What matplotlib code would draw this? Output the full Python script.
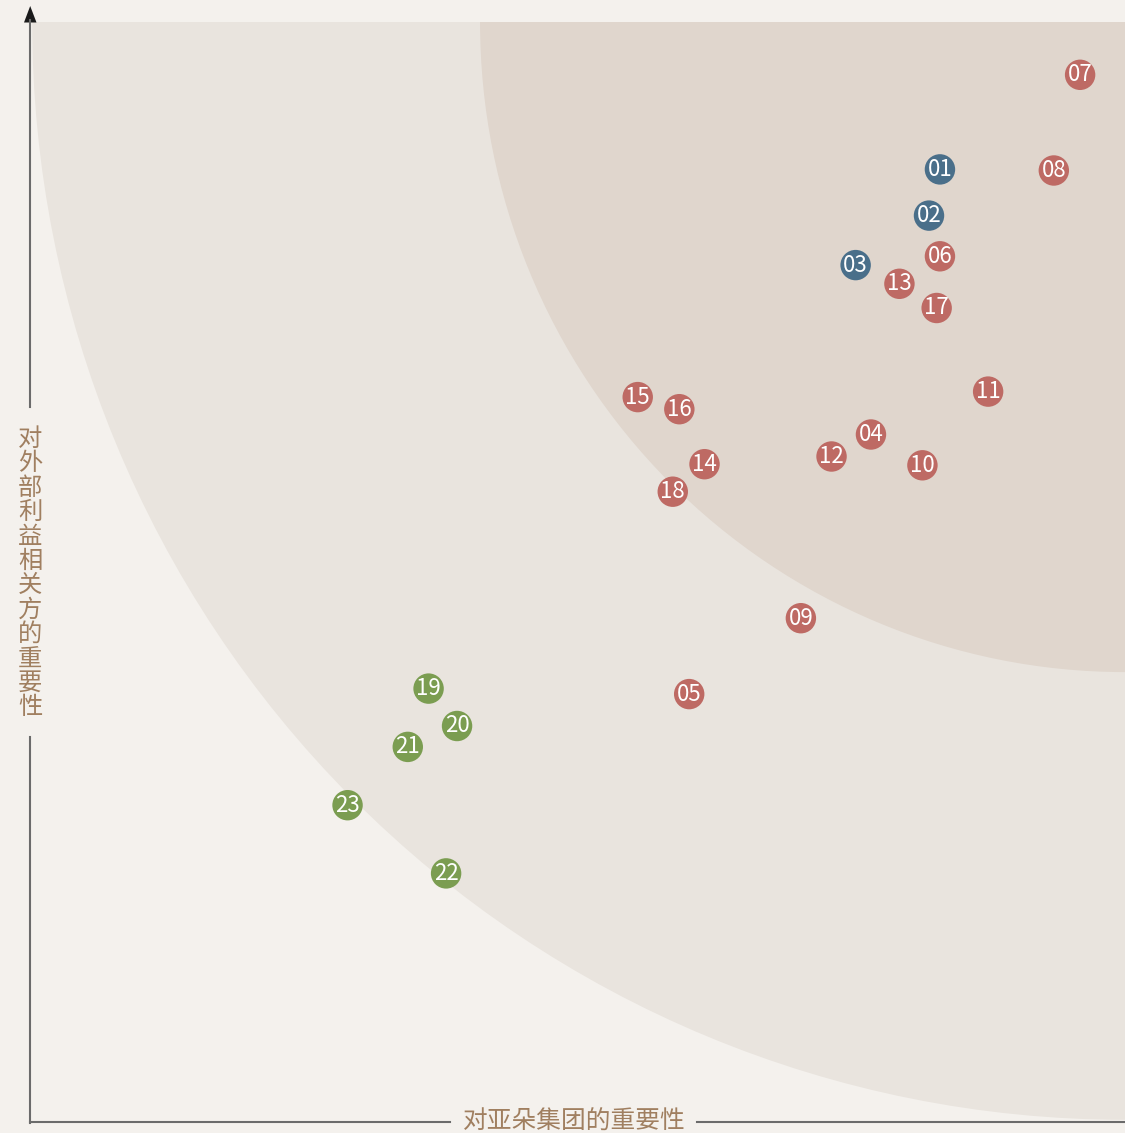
import matplotlib
matplotlib.use("Agg")
import matplotlib.pyplot as plt
from matplotlib import patches

plt.rcParams['font.family'] = ['Noto Sans CJK SC', 'DejaVu Sans']

# 利益相关方: 编号, 对亚朵集团的重要性 (x), 对外部利益相关方的重要性 (y), 类别
ids = ['01', '02', '03', '04', '05', '06', '07', '08', '09', '10', '11', '12',
       '13', '14', '15', '16', '17', '18', '19', '20', '21', '22', '23']
x_vals = [83.1, 82.1, 75.4, 76.8, 60.2, 83.1, 95.9, 93.5, 70.4, 81.5, 87.5, 73.2,
          79.4, 61.6, 55.5, 59.3, 82.8, 58.7, 36.4, 39.0, 34.5, 38.0, 29.0]
y_vals = [86.6, 82.4, 77.9, 62.5, 38.9, 78.7, 95.2, 86.5, 45.8, 59.7, 66.4, 60.5,
          76.2, 59.8, 65.9, 64.8, 74.0, 57.3, 39.4, 36.0, 34.1, 22.6, 28.8]
groups = ['blue', 'blue', 'blue'] + ['red'] * 15 + ['green'] * 5

x_label = '对亚朵集团的重要性'
y_label = '对外部利益相关方的重要性'

colors = {'blue': '#4a6f8a', 'red': '#be6a64', 'green': '#7b9d51'}
bg = '#f4f1ed'
text_col = '#a07f60'

W, H = 1125, 1133
fig = plt.figure(figsize=(W / 100, H / 100), dpi=100, facecolor=bg)
# plot area: x 30..1125 px, y 22..1122 px
ax = fig.add_axes([30 / W, (H - 1122) / H, 1095 / W, 1100 / H])
ax.set_xlim(0, 100)
ax.set_ylim(0, 100)
ax.set_facecolor(bg)
ax.axis('off')

# quarter circles centred at top-right corner
ax.add_patch(patches.Ellipse((100, 100), 2 * 99.8, 2 * 99.8, facecolor='#e9e4de',
                             edgecolor='none', zorder=0))
ax.add_patch(patches.Ellipse((100, 100), 2 * 58.9, 2 * 59.1, facecolor='#e0d6cd',
                             edgecolor='none', zorder=1))

for i, x, y, g in zip(ids, x_vals, y_vals, groups):
    ax.scatter(x, y, s=480, color=colors[g], edgecolors='none', zorder=3)
    ax.text(x, y, i, color='white', fontsize=16, ha='center', va='center',
            zorder=4)

# axes lines, in figure pixel space
tr = fig.transFigure
def px(x, y):
    return x / W, (H - y) / H

axis_col = '#6b6b6b'
for (x0, y0), (x1, y1) in [((30, 20), (30, 407)), ((30, 737), (30, 1123)),
                           ((30, 1122), (450, 1122)), ((697, 1122), (1125, 1122))]:
    a, b = px(x0, y0)
    c, d = px(x1, y1)
    fig.add_artist(plt.Line2D([a, c], [b, d], transform=tr, color=axis_col, lw=1.5))

arrow = patches.Polygon([px(24, 22.5), px(36.5, 22.5), px(30.2, 6)], closed=True,
                        transform=tr, facecolor='#1a1a1a', edgecolor='none')
fig.add_artist(arrow)

fig.text(*px(574, 1122), x_label, color=text_col, fontsize=17.8, ha='center', va='center')
for k, ch in enumerate(y_label):
    fig.text(*px(30, 439 + k * 24.4), ch, color=text_col, fontsize=17.5,
             ha='center', va='center')

fig.savefig('out.png', dpi=100, facecolor=bg)
